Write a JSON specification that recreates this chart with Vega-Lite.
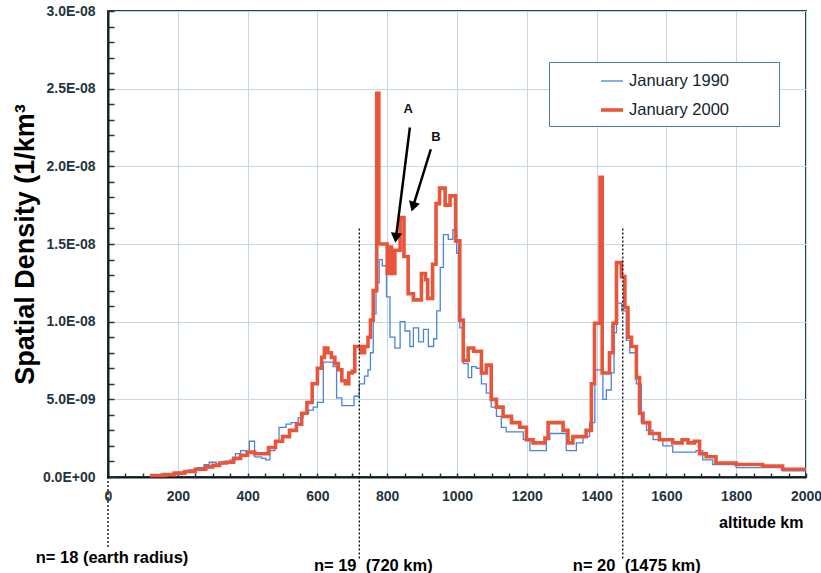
{
  "$schema": "https://vega.github.io/schema/vega-lite/v6.json",
  "width": 698,
  "height": 466,
  "autosize": {"type": "none"},
  "padding": {"left": 108, "top": 11, "right": 15, "bottom": 96},
  "background": "white",
  "config": {
    "font": "Liberation Sans",
    "view": {"stroke": "#27414a", "strokeWidth": 2}
  },
  "datasets": {
    "density": [
      {"alt": 130, "density": 0.05e-9, "series": "January 1990"},
      {"alt": 170, "density": 0.15e-9, "series": "January 1990"},
      {"alt": 200, "density": 0.3e-9, "series": "January 1990"},
      {"alt": 230, "density": 0.45e-9, "series": "January 1990"},
      {"alt": 255, "density": 0.6e-9, "series": "January 1990"},
      {"alt": 275, "density": 0.8e-9, "series": "January 1990"},
      {"alt": 290, "density": 0.95e-9, "series": "January 1990"},
      {"alt": 310, "density": 0.85e-9, "series": "January 1990"},
      {"alt": 330, "density": 1.0e-9, "series": "January 1990"},
      {"alt": 350, "density": 1.1e-9, "series": "January 1990"},
      {"alt": 365, "density": 1.5e-9, "series": "January 1990"},
      {"alt": 380, "density": 1.7e-9, "series": "January 1990"},
      {"alt": 395, "density": 1.6e-9, "series": "January 1990"},
      {"alt": 405, "density": 2.3e-9, "series": "January 1990"},
      {"alt": 420, "density": 1.3e-9, "series": "January 1990"},
      {"alt": 440, "density": 1.2e-9, "series": "January 1990"},
      {"alt": 452, "density": 1.1e-9, "series": "January 1990"},
      {"alt": 464, "density": 1.7e-9, "series": "January 1990"},
      {"alt": 478, "density": 2.3e-9, "series": "January 1990"},
      {"alt": 490, "density": 3.2e-9, "series": "January 1990"},
      {"alt": 510, "density": 3.4e-9, "series": "January 1990"},
      {"alt": 525, "density": 3.5e-9, "series": "January 1990"},
      {"alt": 545, "density": 3.8e-9, "series": "January 1990"},
      {"alt": 559, "density": 4.1e-9, "series": "January 1990"},
      {"alt": 575, "density": 4.3e-9, "series": "January 1990"},
      {"alt": 588, "density": 4.5e-9, "series": "January 1990"},
      {"alt": 600, "density": 4.8e-9, "series": "January 1990"},
      {"alt": 617, "density": 7.4e-9, "series": "January 1990"},
      {"alt": 645, "density": 7.1e-9, "series": "January 1990"},
      {"alt": 655, "density": 5.1e-9, "series": "January 1990"},
      {"alt": 670, "density": 4.6e-9, "series": "January 1990"},
      {"alt": 705, "density": 5.2e-9, "series": "January 1990"},
      {"alt": 720, "density": 6.0e-9, "series": "January 1990"},
      {"alt": 735, "density": 6.5e-9, "series": "January 1990"},
      {"alt": 745, "density": 6.9e-9, "series": "January 1990"},
      {"alt": 752, "density": 8.0e-9, "series": "January 1990"},
      {"alt": 760, "density": 10.5e-9, "series": "January 1990"},
      {"alt": 768, "density": 12.5e-9, "series": "January 1990"},
      {"alt": 777, "density": 14.0e-9, "series": "January 1990"},
      {"alt": 786, "density": 13.6e-9, "series": "January 1990"},
      {"alt": 798, "density": 11.6e-9, "series": "January 1990"},
      {"alt": 808, "density": 9.0e-9, "series": "January 1990"},
      {"alt": 822, "density": 8.3e-9, "series": "January 1990"},
      {"alt": 837, "density": 10.0e-9, "series": "January 1990"},
      {"alt": 851, "density": 9.4e-9, "series": "January 1990"},
      {"alt": 865, "density": 8.4e-9, "series": "January 1990"},
      {"alt": 875, "density": 9.6e-9, "series": "January 1990"},
      {"alt": 890, "density": 8.7e-9, "series": "January 1990"},
      {"alt": 904, "density": 9.5e-9, "series": "January 1990"},
      {"alt": 918, "density": 8.4e-9, "series": "January 1990"},
      {"alt": 933, "density": 8.9e-9, "series": "January 1990"},
      {"alt": 942, "density": 10.7e-9, "series": "January 1990"},
      {"alt": 952, "density": 13.5e-9, "series": "January 1990"},
      {"alt": 961, "density": 15.6e-9, "series": "January 1990"},
      {"alt": 975, "density": 15.3e-9, "series": "January 1990"},
      {"alt": 988, "density": 15.9e-9, "series": "January 1990"},
      {"alt": 999, "density": 14.4e-9, "series": "January 1990"},
      {"alt": 1008, "density": 9.6e-9, "series": "January 1990"},
      {"alt": 1018, "density": 7.3e-9, "series": "January 1990"},
      {"alt": 1032, "density": 6.4e-9, "series": "January 1990"},
      {"alt": 1042, "density": 7.1e-9, "series": "January 1990"},
      {"alt": 1055, "density": 7.0e-9, "series": "January 1990"},
      {"alt": 1070, "density": 6.0e-9, "series": "January 1990"},
      {"alt": 1084, "density": 5.4e-9, "series": "January 1990"},
      {"alt": 1098, "density": 4.5e-9, "series": "January 1990"},
      {"alt": 1113, "density": 3.9e-9, "series": "January 1990"},
      {"alt": 1127, "density": 3.2e-9, "series": "January 1990"},
      {"alt": 1141, "density": 2.9e-9, "series": "January 1990"},
      {"alt": 1190, "density": 2.4e-9, "series": "January 1990"},
      {"alt": 1209, "density": 1.7e-9, "series": "January 1990"},
      {"alt": 1256, "density": 2.4e-9, "series": "January 1990"},
      {"alt": 1266, "density": 2.8e-9, "series": "January 1990"},
      {"alt": 1313, "density": 1.7e-9, "series": "January 1990"},
      {"alt": 1342, "density": 2.2e-9, "series": "January 1990"},
      {"alt": 1361, "density": 2.6e-9, "series": "January 1990"},
      {"alt": 1380, "density": 3.5e-9, "series": "January 1990"},
      {"alt": 1395, "density": 6.9e-9, "series": "January 1990"},
      {"alt": 1418, "density": 5.0e-9, "series": "January 1990"},
      {"alt": 1428, "density": 5.6e-9, "series": "January 1990"},
      {"alt": 1442, "density": 6.7e-9, "series": "January 1990"},
      {"alt": 1450, "density": 9.3e-9, "series": "January 1990"},
      {"alt": 1457, "density": 11.2e-9, "series": "January 1990"},
      {"alt": 1472, "density": 10.7e-9, "series": "January 1990"},
      {"alt": 1485, "density": 8.8e-9, "series": "January 1990"},
      {"alt": 1495, "density": 8.0e-9, "series": "January 1990"},
      {"alt": 1514, "density": 6.0e-9, "series": "January 1990"},
      {"alt": 1528, "density": 3.5e-9, "series": "January 1990"},
      {"alt": 1543, "density": 3.0e-9, "series": "January 1990"},
      {"alt": 1562, "density": 2.4e-9, "series": "January 1990"},
      {"alt": 1590, "density": 2.0e-9, "series": "January 1990"},
      {"alt": 1618, "density": 1.6e-9, "series": "January 1990"},
      {"alt": 1685, "density": 1.7e-9, "series": "January 1990"},
      {"alt": 1704, "density": 1.1e-9, "series": "January 1990"},
      {"alt": 1733, "density": 0.8e-9, "series": "January 1990"},
      {"alt": 1800, "density": 0.6e-9, "series": "January 1990"},
      {"alt": 1933, "density": 0.4e-9, "series": "January 1990"},
      {"alt": 2000, "density": 0.4e-9, "series": "January 1990"},

      {"alt": 120, "density": 0.1e-9, "series": "January 2000"},
      {"alt": 160, "density": 0.15e-9, "series": "January 2000"},
      {"alt": 190, "density": 0.25e-9, "series": "January 2000"},
      {"alt": 220, "density": 0.35e-9, "series": "January 2000"},
      {"alt": 250, "density": 0.5e-9, "series": "January 2000"},
      {"alt": 280, "density": 0.65e-9, "series": "January 2000"},
      {"alt": 300, "density": 0.75e-9, "series": "January 2000"},
      {"alt": 320, "density": 0.9e-9, "series": "January 2000"},
      {"alt": 340, "density": 0.95e-9, "series": "January 2000"},
      {"alt": 360, "density": 1.2e-9, "series": "January 2000"},
      {"alt": 380, "density": 1.4e-9, "series": "January 2000"},
      {"alt": 400, "density": 1.6e-9, "series": "January 2000"},
      {"alt": 420, "density": 1.5e-9, "series": "January 2000"},
      {"alt": 445, "density": 1.5e-9, "series": "January 2000"},
      {"alt": 460, "density": 1.9e-9, "series": "January 2000"},
      {"alt": 480, "density": 2.3e-9, "series": "January 2000"},
      {"alt": 500, "density": 2.6e-9, "series": "January 2000"},
      {"alt": 520, "density": 3.0e-9, "series": "January 2000"},
      {"alt": 540, "density": 3.4e-9, "series": "January 2000"},
      {"alt": 555, "density": 4.1e-9, "series": "January 2000"},
      {"alt": 570, "density": 4.8e-9, "series": "January 2000"},
      {"alt": 585, "density": 6.0e-9, "series": "January 2000"},
      {"alt": 600, "density": 7.0e-9, "series": "January 2000"},
      {"alt": 612, "density": 7.7e-9, "series": "January 2000"},
      {"alt": 620, "density": 8.3e-9, "series": "January 2000"},
      {"alt": 630, "density": 8.0e-9, "series": "January 2000"},
      {"alt": 640, "density": 7.7e-9, "series": "January 2000"},
      {"alt": 650, "density": 7.3e-9, "series": "January 2000"},
      {"alt": 660, "density": 6.9e-9, "series": "January 2000"},
      {"alt": 670, "density": 6.2e-9, "series": "January 2000"},
      {"alt": 680, "density": 6.0e-9, "series": "January 2000"},
      {"alt": 690, "density": 6.7e-9, "series": "January 2000"},
      {"alt": 700, "density": 6.8e-9, "series": "January 2000"},
      {"alt": 707, "density": 8.4e-9, "series": "January 2000"},
      {"alt": 725, "density": 8.0e-9, "series": "January 2000"},
      {"alt": 735, "density": 8.4e-9, "series": "January 2000"},
      {"alt": 745, "density": 9.0e-9, "series": "January 2000"},
      {"alt": 752, "density": 10.1e-9, "series": "January 2000"},
      {"alt": 760, "density": 12.0e-9, "series": "January 2000"},
      {"alt": 770, "density": 24.7e-9, "series": "January 2000"},
      {"alt": 776, "density": 15.0e-9, "series": "January 2000"},
      {"alt": 800, "density": 13.1e-9, "series": "January 2000"},
      {"alt": 806, "density": 14.8e-9, "series": "January 2000"},
      {"alt": 812, "density": 13.1e-9, "series": "January 2000"},
      {"alt": 822, "density": 14.6e-9, "series": "January 2000"},
      {"alt": 837, "density": 16.7e-9, "series": "January 2000"},
      {"alt": 848, "density": 14.2e-9, "series": "January 2000"},
      {"alt": 860, "density": 11.8e-9, "series": "January 2000"},
      {"alt": 875, "density": 11.4e-9, "series": "January 2000"},
      {"alt": 898, "density": 13.1e-9, "series": "January 2000"},
      {"alt": 910, "density": 12.7e-9, "series": "January 2000"},
      {"alt": 916, "density": 11.5e-9, "series": "January 2000"},
      {"alt": 930, "density": 13.7e-9, "series": "January 2000"},
      {"alt": 940, "density": 17.6e-9, "series": "January 2000"},
      {"alt": 950, "density": 18.6e-9, "series": "January 2000"},
      {"alt": 966, "density": 17.5e-9, "series": "January 2000"},
      {"alt": 980, "density": 18.1e-9, "series": "January 2000"},
      {"alt": 996, "density": 15.2e-9, "series": "January 2000"},
      {"alt": 1008, "density": 10.1e-9, "series": "January 2000"},
      {"alt": 1018, "density": 7.5e-9, "series": "January 2000"},
      {"alt": 1032, "density": 8.3e-9, "series": "January 2000"},
      {"alt": 1048, "density": 8.1e-9, "series": "January 2000"},
      {"alt": 1070, "density": 6.7e-9, "series": "January 2000"},
      {"alt": 1084, "density": 7.2e-9, "series": "January 2000"},
      {"alt": 1098, "density": 5.0e-9, "series": "January 2000"},
      {"alt": 1113, "density": 4.5e-9, "series": "January 2000"},
      {"alt": 1132, "density": 3.9e-9, "series": "January 2000"},
      {"alt": 1156, "density": 3.5e-9, "series": "January 2000"},
      {"alt": 1180, "density": 3.2e-9, "series": "January 2000"},
      {"alt": 1199, "density": 2.4e-9, "series": "January 2000"},
      {"alt": 1218, "density": 2.2e-9, "series": "January 2000"},
      {"alt": 1252, "density": 2.5e-9, "series": "January 2000"},
      {"alt": 1261, "density": 3.5e-9, "series": "January 2000"},
      {"alt": 1304, "density": 3.0e-9, "series": "January 2000"},
      {"alt": 1318, "density": 2.2e-9, "series": "January 2000"},
      {"alt": 1332, "density": 2.6e-9, "series": "January 2000"},
      {"alt": 1370, "density": 3.0e-9, "series": "January 2000"},
      {"alt": 1385, "density": 6.0e-9, "series": "January 2000"},
      {"alt": 1394, "density": 9.9e-9, "series": "January 2000"},
      {"alt": 1410, "density": 19.3e-9, "series": "January 2000"},
      {"alt": 1416, "density": 6.7e-9, "series": "January 2000"},
      {"alt": 1437, "density": 8.0e-9, "series": "January 2000"},
      {"alt": 1447, "density": 9.9e-9, "series": "January 2000"},
      {"alt": 1457, "density": 13.8e-9, "series": "January 2000"},
      {"alt": 1471, "density": 12.9e-9, "series": "January 2000"},
      {"alt": 1481, "density": 10.9e-9, "series": "January 2000"},
      {"alt": 1490, "density": 9.0e-9, "series": "January 2000"},
      {"alt": 1500, "density": 8.4e-9, "series": "January 2000"},
      {"alt": 1514, "density": 6.4e-9, "series": "January 2000"},
      {"alt": 1523, "density": 4.1e-9, "series": "January 2000"},
      {"alt": 1533, "density": 3.5e-9, "series": "January 2000"},
      {"alt": 1552, "density": 2.8e-9, "series": "January 2000"},
      {"alt": 1580, "density": 2.4e-9, "series": "January 2000"},
      {"alt": 1618, "density": 2.2e-9, "series": "January 2000"},
      {"alt": 1645, "density": 2.4e-9, "series": "January 2000"},
      {"alt": 1662, "density": 2.2e-9, "series": "January 2000"},
      {"alt": 1680, "density": 2.3e-9, "series": "January 2000"},
      {"alt": 1695, "density": 1.5e-9, "series": "January 2000"},
      {"alt": 1714, "density": 1.3e-9, "series": "January 2000"},
      {"alt": 1742, "density": 0.9e-9, "series": "January 2000"},
      {"alt": 1800, "density": 0.8e-9, "series": "January 2000"},
      {"alt": 1876, "density": 0.7e-9, "series": "January 2000"},
      {"alt": 1933, "density": 0.5e-9, "series": "January 2000"},
      {"alt": 2000, "density": 0.5e-9, "series": "January 2000"}
    ],
    "shells": [
      {"alt": 0, "top": 0, "bottom": -4.5e-9, "label": "n= 18 (earth radius)"},
      {"alt": 720, "top": 16.0e-9, "bottom": -5.3e-9, "label": "n= 19\u00a0\u00a0(720 km)"},
      {"alt": 1475, "top": 16.0e-9, "bottom": -5.3e-9, "label": "n= 20\u00a0\u00a0(1475 km)"}
    ],
    "arrows": [
      {"tag": "A", "alt0": 865, "d0": 22.5e-9, "alt1": 825, "d1": 15.4e-9, "talt": 860, "td": 23.7e-9},
      {"tag": "B", "alt0": 925, "d0": 21.1e-9, "alt1": 874, "d1": 17.4e-9, "talt": 940, "td": 21.9e-9}
    ]
  },
  "layer": [
    {
      "data": {"name": "density"},
      "mark": {"type": "line", "interpolate": "step-after", "strokeJoin": "miter"},
      "encoding": {
        "x": {
          "field": "alt",
          "type": "quantitative",
          "scale": {"domain": [0, 2000], "nice": false},
          "axis": {
            "title": "altitude km",
            "titleFont": "Liberation Sans",
            "titleFontSize": 16,
            "titleFontWeight": "bold",
            "titleColor": "black",
            "titleAnchor": "end",
            "titleAlign": "right",
            "titleBaseline": "middle",
            "titleX": 695,
            "titleY": 45,
            "tickCount": 100,
            "values": [0, 50, 100, 150, 200, 250, 300, 350, 400, 450, 500, 550, 600, 650, 700, 750, 800, 850, 900, 950, 1000, 1050, 1100, 1150, 1200, 1250, 1300, 1350, 1400, 1450, 1500, 1550, 1600, 1650, 1700, 1750, 1800, 1850, 1900, 1950, 2000],
            "format": "d",
            "labelExpr": "datum.value % 200 === 0 ? datum.label : ''",
            "labelOverlap": false,
            "labelFlush": false,
            "labelFont": "Liberation Sans",
            "labelFontSize": 14,
            "labelFontWeight": "bold",
            "labelColor": "#1f3540",
            "labelPadding": 16,
            "tickSize": -4,
            "tickWidth": 1.5,
            "tickColor": "#1f3540",
            "domainColor": "#151d20",
            "domainWidth": 2,
            "grid": true,
            "gridColor": "#c3d9e9",
            "gridWidth": 1,
            "gridOpacity": {"condition": {"test": "datum.value % 200 === 0", "value": 1}, "value": 0}
          }
        },
        "y": {
          "field": "density",
          "type": "quantitative",
          "scale": {"domain": [0, 3e-8], "nice": false},
          "axis": {
            "title": "Spatial Density (1/km³",
            "titleFont": "Liberation Sans",
            "titleFontSize": 27,
            "titleFontWeight": "bold",
            "titleColor": "black",
            "titlePadding": 3,
            "tickCount": 100,
            "values": [0, 1e-9, 2e-9, 3e-9, 4e-9, 5e-9, 6e-9, 7e-9, 8e-9, 9e-9, 10e-9, 11e-9, 12e-9, 13e-9, 14e-9, 15e-9, 16e-9, 17e-9, 18e-9, 19e-9, 20e-9, 21e-9, 22e-9, 23e-9, 24e-9, 25e-9, 26e-9, 27e-9, 28e-9, 29e-9, 30e-9],
            "labelExpr": "round(datum.value * 1e10) % 50 === 0 ? replace(replace(upper(format(datum.value, '.1e')), 'E-', 'E-0'), 'E+0', 'E+00') : ''",
            "labelOverlap": false,
            "labelFlush": false,
            "labelFont": "Liberation Sans",
            "labelFontSize": 14,
            "labelFontWeight": "bold",
            "labelColor": "#1f3540",
            "labelPadding": 19,
            "tickSize": -6,
            "tickWidth": 1.5,
            "tickColor": "#1f3540",
            "domainColor": "#151d20",
            "domainWidth": 2,
            "grid": true,
            "gridColor": "#c3d9e9",
            "gridWidth": 1,
            "gridOpacity": {"condition": {"test": "round(datum.value * 1e10) % 50 === 0", "value": 1}, "value": 0}
          }
        },
        "color": {
          "field": "series",
          "type": "nominal",
          "scale": {"domain": ["January 1990", "January 2000"], "range": ["#4b84d9", "#e9553a"]},
          "legend": {
            "title": "1990",
            "titleOrient": "right",
            "titleOpacity": 0,
            "titleFontSize": 16.5,
            "titlePadding": 6,
            "orient": "none",
            "legendX": 441,
            "legendY": 51,
            "padding": 7,
            "strokeColor": "#4d8191",
            "fillColor": "white",
            "symbolType": "stroke",
            "symbolSize": 484,
            "symbolOffset": 43,
            "labelOffset": 4,
            "rowPadding": 7,
            "labelFont": "Liberation Sans",
            "labelFontSize": 16.5,
            "labelColor": "#16242a"
          }
        },
        "strokeWidth": {
          "field": "series",
          "type": "nominal",
          "scale": {"domain": ["January 1990", "January 2000"], "range": [1.3, 3.6]},
          "legend": {
            "title": "1990",
            "titleOrient": "right",
            "titleOpacity": 0,
            "titleFontSize": 16.5,
            "titlePadding": 6,
            "orient": "none",
            "legendX": 441,
            "legendY": 51,
            "padding": 7,
            "strokeColor": "#4d8191",
            "fillColor": "white",
            "symbolType": "stroke",
            "symbolSize": 484,
            "symbolOffset": 43,
            "labelOffset": 4,
            "rowPadding": 7,
            "labelFont": "Liberation Sans",
            "labelFontSize": 16.5,
            "labelColor": "#16242a"
          }
        }
      }
    },
    {
      "data": {"name": "shells"},
      "mark": {"type": "rule", "color": "black", "strokeWidth": 1.3, "strokeDash": [2, 2], "clip": false},
      "encoding": {
        "x": {"field": "alt", "type": "quantitative"},
        "y": {"field": "top", "type": "quantitative"},
        "y2": {"field": "bottom"}
      }
    },
    {
      "data": {"name": "shells"},
      "transform": [{"filter": "datum.alt === 0"}],
      "mark": {"type": "text", "font": "Liberation Sans", "fontSize": 16.5, "fontWeight": "bold", "color": "black", "align": "center", "baseline": "middle", "dx": 4, "clip": false},
      "encoding": {
        "x": {"field": "alt", "type": "quantitative"},
        "y": {"datum": -5.2e-9},
        "text": {"field": "label"}
      }
    },
    {
      "data": {"name": "shells"},
      "transform": [{"filter": "datum.alt > 0"}],
      "mark": {"type": "text", "font": "Liberation Sans", "fontSize": 16.5, "fontWeight": "bold", "color": "black", "align": "center", "baseline": "middle", "dx": 14, "clip": false},
      "encoding": {
        "x": {"field": "alt", "type": "quantitative"},
        "y": {"datum": -5.7e-9},
        "text": {"field": "label"}
      }
    },
    {
      "data": {"name": "arrows"},
      "mark": {"type": "rule", "color": "black", "strokeWidth": 2.5},
      "encoding": {
        "x": {"field": "alt0", "type": "quantitative"},
        "y": {"field": "d0", "type": "quantitative"},
        "x2": {"field": "alt1"},
        "y2": {"field": "d1"}
      }
    },
    {
      "data": {"name": "arrows"},
      "mark": {"type": "point", "shape": "triangle-down", "filled": true, "color": "black", "size": 130, "opacity": 1},
      "encoding": {
        "x": {"field": "alt1", "type": "quantitative"},
        "y": {"field": "d1", "type": "quantitative"},
        "angle": {"field": "tag", "type": "nominal", "scale": {"domain": ["A", "B"], "range": [7, 17]}, "legend": null}
      }
    },
    {
      "data": {"name": "arrows"},
      "mark": {"type": "text", "font": "Liberation Sans", "fontSize": 13, "fontWeight": "bold", "color": "#111", "align": "center", "baseline": "middle"},
      "encoding": {
        "x": {"field": "talt", "type": "quantitative"},
        "y": {"field": "td", "type": "quantitative"},
        "text": {"field": "tag"}
      }
    }
  ]
}
